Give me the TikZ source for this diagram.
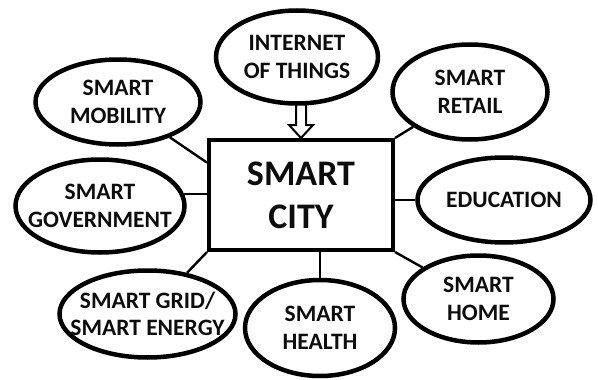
\documentclass[tikz,border=0pt]{standalone}
\usepackage{fontspec}
\setmainfont{Carlito}
\usetikzlibrary{shapes.geometric}

\tikzset{
  bubble/.style={draw, ellipse, line width=4.5pt, inner sep=0pt},
  bubtext/.style={font=\fontsize{23.5}{27.5}\selectfont\bfseries, text=black!95, align=center},
  citybox/.style={draw, rectangle, line width=4pt, minimum width=184pt, minimum height=110pt,
    font=\fontsize{36}{43}\selectfont\bfseries, text=black!95, align=center},
  link/.style={line width=2.4pt},
  hollow/.style={line width=2pt, line join=miter},
}

\begin{document}
\begin{tikzpicture}[x=1pt, y=-1pt]
    \useasboundingbox (0,0) rectangle (598,380);

    \node[citybox] (city) at (301,195) {SMART\\CITY};

    \node[bubble, minimum width=162pt, minimum height=93pt,
          label={[bubtext]center:INTERNET\\OF THINGS}] (iot) at (297,57) {};
    \node[bubble, minimum width=165pt, minimum height=85pt,
          label={[bubtext]center:SMART\\MOBILITY}] (mob) at (118,102) {};
    \node[bubble, minimum width=155pt, minimum height=95pt,
          label={[bubtext]center:SMART\\RETAIL}] (ret) at (470,92) {};
    \node[bubble, minimum width=169pt, minimum height=93pt,
          label={[bubtext]center:SMART\\GOVERNMENT}] (gov) at (100,206) {};
    \node[bubble, minimum width=173pt, minimum height=85pt,
          label={[bubtext]center:EDUCATION}] (edu) at (504,200) {};
    \node[bubble, minimum width=176pt, minimum height=87pt,
          label={[bubtext]center:SMART GRID/\\SMART ENERGY}] (grid) at (147.5,314) {};
    \node[bubble, minimum width=150pt, minimum height=96pt,
          label={[bubtext]center:SMART\\HEALTH}] (hea) at (320,328) {};
    \node[bubble, minimum width=150pt, minimum height=87pt,
          label={[bubtext]center:SMART\\HOME}] (home) at (478.5,299) {};

    % hollow arrow from IoT into the box
    \draw[hollow] (city.north) ++(-5,-34) -- ++(0,21) -- ++(-7,0) -- (city.north)
        -- ++(12,-13) -- ++(-7,0) -- ++(0,-21);

    \draw[link] (mob) -- (city.161);
    \draw[link] (ret) -- (city.north east);
    \draw[link] (gov.8) -- (gov.8 -| city.west);
    \draw[link] (edu.west -| city.east) -- (edu.west);
    \draw[link] (city.south west) -- (grid);
    \draw[link] (hea.north |- city.south) -- (hea.north);
    \draw[link] (city.south east) -- (home);
\end{tikzpicture}
\end{document}
